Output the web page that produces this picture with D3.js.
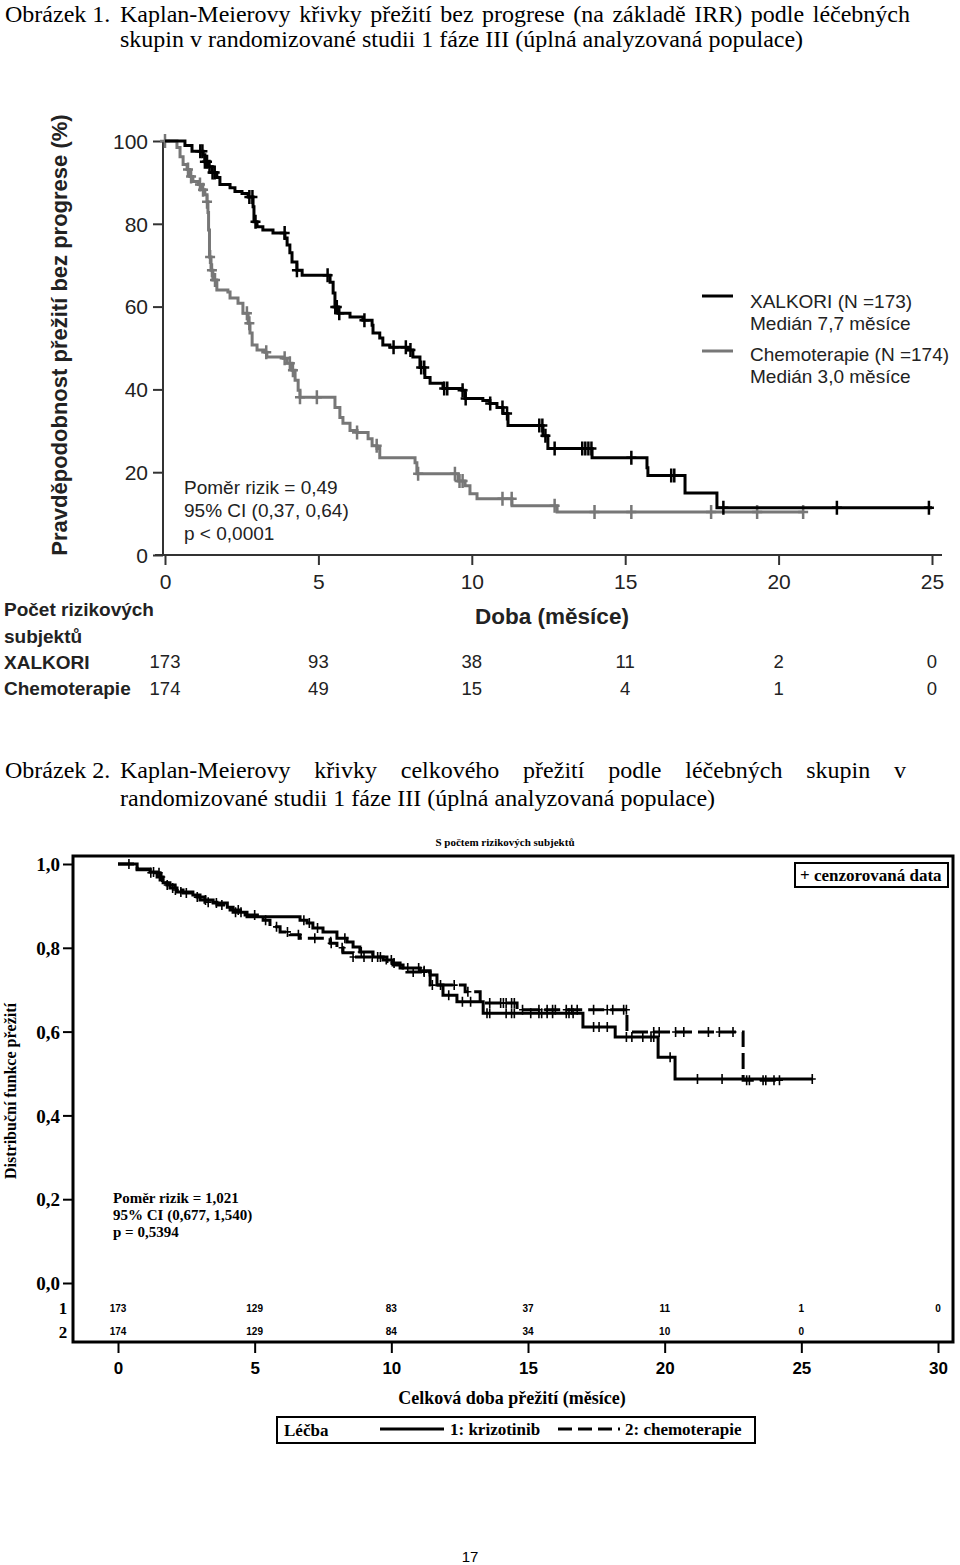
<!DOCTYPE html>
<html><head><meta charset="utf-8">
<script src="https://cdn.jsdelivr.net/npm/d3@7"></script>
<style>body{margin:0;background:#fff}svg{display:block}</style>
</head><body>
<script>
// ---------- DATA: Figure 1 (PFS) ----------
const pfsXTicks = [0, 5, 10, 15, 20, 25];
const pfsYTicks = [0, 20, 40, 60, 80, 100];
const xalkoriTimes = [0.65,0.88,1.24,1.30,1.40,1.53,1.69,1.79,2.12,2.28,2.51,2.71,2.87,2.90,3.0,3.19,3.52,3.91,3.98,4.07,4.14,4.30,4.47,5.38,5.48,5.54,5.64,6.03,6.45,6.75,6.78,7.0,7.1,7.33,7.92,8.08,8.31,8.47,8.64,9.06,9.68,9.78,10.36,10.59,10.82,11.02,11.18,12.32,12.48,13.92,15.71,15.74,16.95,17.99];
const xalkoriSurv  = [98.9,97.5,96.7,95.0,93.8,92.4,91.2,89.5,88.7,87.8,87.3,86.5,84.1,80.5,79.3,78.5,77.8,76.6,74.9,73.0,70.8,68.8,67.6,65.9,63.3,59.9,58.4,57.5,56.7,55.5,53.6,52.4,50.7,50.2,49.5,47.8,45.3,42.9,41.5,40.2,39.8,37.8,37.3,36.6,35.6,34.2,31.3,28.8,25.7,23.5,21.1,19.2,15.0,11.4];
const xalkoriEnd = 25.0;
const xalkoriCensor = [1.15,1.22,1.3,1.37,1.45,1.55,1.62,2.75,2.85,2.95,3.9,4.3,5.3,5.55,5.6,5.68,6.5,7.45,7.85,8.0,8.35,8.45,9.1,9.2,9.7,9.8,10.6,11.0,11.15,12.2,12.3,12.4,12.7,13.6,13.7,13.8,13.9,15.2,16.5,16.6,18.2,21.9,24.9];
const chemoTimes = [0.39,0.49,0.59,0.72,0.81,0.91,1.08,1.21,1.30,1.37,1.40,1.42,1.45,1.50,1.56,1.69,2.05,2.12,2.38,2.54,2.71,2.77,2.84,3.0,3.26,3.32,3.85,3.98,4.14,4.24,4.34,4.40,5.54,5.70,5.80,6.03,6.26,6.62,6.75,6.91,7.0,8.15,8.21,9.55,9.78,9.94,10.17,11.31,12.78];
const chemoSurv  = [98.4,96.2,94.3,93.1,91.4,90.2,89.5,88.2,87.0,85.3,82.7,78.5,72.0,68.8,66.4,64.0,63.5,62.1,60.8,58.4,56.0,53.6,50.7,49.5,49.0,47.8,47.5,46.3,44.6,42.2,39.8,38.1,35.6,33.2,31.8,30.1,29.6,28.1,26.4,25.7,23.5,22.3,19.6,17.9,16.7,14.8,13.6,11.9,10.4];
const chemoEnd = 20.8;
const chemoCensor = [0.0,0.75,0.85,1.14,1.24,1.37,1.47,1.53,1.63,2.67,2.75,3.3,3.9,4.07,4.17,4.4,4.95,6.26,6.9,8.25,9.45,9.6,9.7,11.0,11.3,12.7,14.0,15.2,17.8,19.3,20.8];
const pfsRiskXalkori = [173, 93, 38, 11, 2, 0];
const pfsRiskChemo   = [174, 49, 15, 4, 1, 0];

// ---------- DATA: Figure 2 (OS) ----------
const osXTicks = [0, 5, 10, 15, 20, 25, 30];
const osYTicks = [0, 0.2, 0.4, 0.6, 0.8, 1.0];
const osYTickLabels = ["0,0", "0,2", "0,4", "0,6", "0,8", "1,0"];
const krizTimes = [0.70,1.17,1.43,1.65,1.90,2.16,2.74,3.0,3.48,4.0,4.21,4.72,6.66,6.92,7.13,7.50,8.01,8.38,8.60,8.85,9.33,9.70,10.06,10.43,11.05,11.42,11.67,11.89,12.40,13.36,17.01,18.19,19.76,20.38];
const krizSurv  = [0.986,0.981,0.969,0.955,0.943,0.933,0.926,0.914,0.907,0.897,0.885,0.874,0.866,0.859,0.847,0.838,0.823,0.814,0.802,0.790,0.778,0.771,0.759,0.752,0.745,0.735,0.711,0.687,0.671,0.644,0.611,0.587,0.539,0.487];
const krizEnd = 25.4;
const krizCensor = [0.4,1.3,1.6,2.0,2.3,3.2,3.6,4.3,4.5,6.8,7.0,7.3,8.3,8.9,9.5,10.0,10.6,11.0,11.2,12.1,12.6,12.9,13.5,13.6,14.2,14.4,14.5,15.1,15.4,15.5,15.7,15.9,16.4,16.5,16.65,17.4,17.6,17.9,18.6,18.8,19.2,19.5,19.6,20.2,21.2,22.1,25.4];
const osChemoTimes = [0.70,1.17,1.54,1.79,2.09,2.38,2.89,3.18,3.62,4.10,4.65,5.31,5.56,5.93,6.29,6.66,7.76,8.01,8.23,8.60,9.84,10.32,10.57,11.42,12.70,13.25,14.60,18.62,22.87];
const osChemoSurv  = [0.988,0.979,0.962,0.950,0.938,0.931,0.921,0.909,0.902,0.890,0.878,0.866,0.850,0.838,0.831,0.823,0.811,0.800,0.788,0.778,0.764,0.752,0.742,0.711,0.695,0.668,0.652,0.599,0.484];
const osChemoEnd = 24.2;
const osChemoCensor = [1.2,1.5,1.8,2.1,2.5,2.9,3.3,3.8,4.4,5.0,5.4,5.8,6.2,6.6,7.2,7.8,8.2,8.6,9.0,9.3,9.6,10.1,10.8,11.2,11.5,11.8,12.3,12.8,13.6,14.0,14.1,14.2,14.4,14.5,14.8,15.4,15.7,15.9,16.0,16.4,16.6,16.8,17.4,17.9,18.1,18.5,18.6,19.6,19.8,20.4,20.7,21.6,22.0,22.5,23.0,23.1,23.6,23.7,24.0,24.2];
const osRisk1 = [173, 129, 83, 37, 11, 1, 0];
const osRisk2 = [174, 129, 84, 34, 10, 0];

// ---------- DRAW ----------
const W = 960, H = 1565;
const svg = d3.select("body").append("svg").attr("width", W).attr("height", H);
svg.append("rect").attr("width", W).attr("height", H).attr("fill", "#fff");
const serif = "'Liberation Serif','Times New Roman',serif";
const sans = "'Liberation Sans',Arial,sans-serif";

function stepVal(times, surv, t, start) {
  let v = start;
  for (let i = 0; i < times.length; i++) if (times[i] <= t + 1e-9) v = surv[i];
  return v;
}
function curvePts(times, surv, start, end) {
  const pts = [[0, start]];
  times.forEach((t, i) => pts.push([t, surv[i]]));
  pts.push([end, surv[surv.length - 1]]);
  return pts;
}
function text(g, x, y, s, opts) {
  return g.append("text").attr("x", x).attr("y", y).text(s)
    .attr("font-family", opts.family || sans).attr("font-size", opts.size || 16)
    .attr("font-weight", opts.weight || "normal").attr("text-anchor", opts.anchor || "start")
    .attr("fill", opts.fill || "#000");
}
// justify a line: widen word spacing so the line ends at the target width
function justify(sel, width) {
  const nat = sel.node().getComputedTextLength();
  const spaces = (sel.text().match(/ /g) || []).length;
  if (nat < width && spaces) sel.attr("word-spacing", (width - nat) / spaces);
}

// Titles
const TS = 24;
text(svg, 5, 22, "Obrázek 1.", {family: serif, size: TS});
justify(text(svg, 120, 22, "Kaplan-Meierovy křivky přežití bez progrese (na základě IRR) podle léčebných", {family: serif, size: TS}), 790);
text(svg, 120, 47, "skupin v randomizované studii 1 fáze III (úplná analyzovaná populace)", {family: serif, size: TS});
text(svg, 5, 778, "Obrázek 2.", {family: serif, size: TS});
justify(text(svg, 120, 778, "Kaplan-Meierovy křivky celkového přežití podle léčebných skupin v", {family: serif, size: TS}), 786);
text(svg, 120, 806, "randomizované studii 1 fáze III (úplná analyzovaná populace)", {family: serif, size: TS});

// ===== Figure 1 =====
const x1 = d3.scaleLinear().domain([0, 25]).range([165, 932]);
const y1 = d3.scaleLinear().domain([0, 100]).range([555, 141]);
const g1 = svg.append("g");
const ax1 = g1.append("g").attr("transform", "translate(163,0)")
  .call(d3.axisLeft(y1).tickValues(pfsYTicks).tickSize(10).tickFormat(d3.format("d")));
ax1.select(".domain").attr("stroke", "#333").attr("stroke-width", 2).attr("d", "M0,141V555");
ax1.selectAll(".tick line").attr("stroke", "#333").attr("stroke-width", 2);
ax1.selectAll(".tick text").attr("font-family", sans).attr("font-size", 21).attr("fill", "#222").attr("x", -15).attr("dy", "0.35em");
const bx1 = g1.append("g").attr("transform", "translate(0,555)")
  .call(d3.axisBottom(x1).tickValues(pfsXTicks).tickSize(10));
bx1.select(".domain").attr("stroke", "#333").attr("stroke-width", 2).attr("d", "M155,0H942");
bx1.selectAll(".tick line").attr("stroke", "#333").attr("stroke-width", 2);
bx1.selectAll(".tick text").attr("font-family", sans).attr("font-size", 21).attr("fill", "#222").attr("y", 19).attr("dy", "0.71em");

const line1 = d3.line().x(d => x1(d[0])).y(d => y1(d[1])).curve(d3.curveStepAfter);
function censors(g, xs, ys, times, surv, start, color, times0, hw, hh, sw) {
  g.append("g").selectAll("path").data(times0).join("path")
    .attr("d", t => {
      const cx = xs(t), cy = ys(stepVal(times, surv, t, start));
      return `M${cx - hw},${cy}H${cx + hw}M${cx},${cy - hh}V${cy + hh}`;
    })
    .attr("stroke", color).attr("stroke-width", sw).attr("fill", "none");
}
const grey = "#777";
g1.append("path").datum(curvePts(chemoTimes, chemoSurv, 100, chemoEnd)).attr("d", line1)
  .attr("fill", "none").attr("stroke", grey).attr("stroke-width", 3);
censors(g1, x1, y1, chemoTimes, chemoSurv, 100, grey, chemoCensor, 5, 7, 2.5);
g1.append("path").datum(curvePts(xalkoriTimes, xalkoriSurv, 100, xalkoriEnd)).attr("d", line1)
  .attr("fill", "none").attr("stroke", "#000").attr("stroke-width", 3);
censors(g1, x1, y1, xalkoriTimes, xalkoriSurv, 100, "#000", xalkoriCensor, 5, 7, 2.5);

// legend fig 1
g1.append("line").attr("x1", 702).attr("x2", 733).attr("y1", 296).attr("y2", 296).attr("stroke", "#000").attr("stroke-width", 3);
g1.append("line").attr("x1", 702).attr("x2", 733).attr("y1", 351).attr("y2", 351).attr("stroke", grey).attr("stroke-width", 3);
text(g1, 750, 308, "XALKORI (N =173)", {size: 19, fill: "#222"});
text(g1, 750, 330, "Medián 7,7 měsíce", {size: 19, fill: "#222"});
text(g1, 750, 361, "Chemoterapie (N =174)", {size: 19, fill: "#222"});
text(g1, 750, 383, "Medián 3,0 měsíce", {size: 19, fill: "#222"});
// annotation
text(g1, 184, 494, "Poměr rizik = 0,49", {size: 19, fill: "#222"});
text(g1, 184, 517, "95% CI (0,37, 0,64)", {size: 19, fill: "#222"});
text(g1, 184, 540, "p < 0,0001", {size: 19, fill: "#222"});
// axis titles
text(g1, 0, 0, "Pravděpodobnost přežití bez progrese (%)", {size: 22, weight: "bold", anchor: "middle", fill: "#222"})
  .attr("transform", "translate(67,335) rotate(-90)");
text(g1, 552, 624, "Doba (měsíce)", {size: 22.5, weight: "bold", anchor: "middle", fill: "#222"});
text(g1, 4, 616, "Počet rizikových", {size: 19, weight: "bold", fill: "#222"});
text(g1, 4, 643, "subjektů", {size: 19, weight: "bold", fill: "#222"});
text(g1, 4, 669, "XALKORI", {size: 19, weight: "bold", fill: "#222"});
text(g1, 4, 695, "Chemoterapie", {size: 19, weight: "bold", fill: "#222"});
g1.append("g").selectAll("text").data(pfsRiskXalkori).join("text")
  .attr("x", (d, i) => x1(pfsXTicks[i])).attr("y", 668).attr("text-anchor", "middle")
  .attr("font-family", sans).attr("font-size", 18.5).attr("fill", "#222").text(d => d);
g1.append("g").selectAll("text").data(pfsRiskChemo).join("text")
  .attr("x", (d, i) => x1(pfsXTicks[i])).attr("y", 695).attr("text-anchor", "middle")
  .attr("font-family", sans).attr("font-size", 18.5).attr("fill", "#222").text(d => d);

// ===== Figure 2 =====
const x2 = d3.scaleLinear().domain([0, 30]).range([118, 938]);
const y2 = d3.scaleLinear().domain([0, 1]).range([1283, 864]);
const g2 = svg.append("g");
text(g2, 505, 846, "S počtem rizikových subjektů", {family: serif, size: 11, weight: "bold", anchor: "middle"});
g2.append("rect").attr("x", 73).attr("y", 856).attr("width", 880).attr("height", 486)
  .attr("fill", "none").attr("stroke", "#000").attr("stroke-width", 3);
const ay2 = g2.append("g").attr("transform", "translate(73,0)")
  .call(d3.axisLeft(y2).tickValues(osYTicks).tickSize(10).tickFormat((d, i) => osYTickLabels[i]));
ay2.select(".domain").remove();
ay2.selectAll(".tick line").attr("stroke", "#000").attr("stroke-width", 2);
ay2.selectAll(".tick text").attr("font-family", serif).attr("font-size", 19).attr("font-weight", "bold").attr("x", -13).attr("dy", "0.35em");
const ax2 = g2.append("g").attr("transform", "translate(0,1342)")
  .call(d3.axisBottom(x2).tickValues(osXTicks).tickSize(11));
ax2.select(".domain").remove();
ax2.selectAll(".tick line").attr("stroke", "#000").attr("stroke-width", 2);
ax2.selectAll(".tick text").attr("font-family", sans).attr("font-size", 17).attr("font-weight", "bold").attr("y", 20).attr("dy", "0.71em");

const line2 = d3.line().x(d => x2(d[0])).y(d => y2(d[1])).curve(d3.curveStepAfter);
g2.append("path").datum(curvePts(osChemoTimes, osChemoSurv, 1, osChemoEnd)).attr("d", line2)
  .attr("fill", "none").attr("stroke", "#000").attr("stroke-width", 3).attr("stroke-dasharray", "16,6");
censors(g2, x2, y2, osChemoTimes, osChemoSurv, 1, "#000", osChemoCensor, 3.5, 5, 1.6);
g2.append("path").datum(curvePts(krizTimes, krizSurv, 1, krizEnd)).attr("d", line2)
  .attr("fill", "none").attr("stroke", "#000").attr("stroke-width", 3);
censors(g2, x2, y2, krizTimes, krizSurv, 1, "#000", krizCensor, 3.5, 5, 1.6);

// risk table fig 2
text(g2, 63, 1314, "1", {family: serif, size: 17, weight: "bold", anchor: "middle"});
text(g2, 63, 1338, "2", {family: serif, size: 17, weight: "bold", anchor: "middle"});
g2.append("g").selectAll("text").data(osRisk1).join("text")
  .attr("x", (d, i) => x2(osXTicks[i])).attr("y", 1312).attr("text-anchor", "middle")
  .attr("font-family", sans).attr("font-size", 10).attr("font-weight", "bold").text(d => d);
g2.append("g").selectAll("text").data(osRisk2).join("text")
  .attr("x", (d, i) => x2(osXTicks[i])).attr("y", 1335).attr("text-anchor", "middle")
  .attr("font-family", sans).attr("font-size", 10).attr("font-weight", "bold").text(d => d);

// censor legend box
g2.append("rect").attr("x", 795).attr("y", 863).attr("width", 153).attr("height", 24)
  .attr("fill", "#fff").attr("stroke", "#000").attr("stroke-width", 2);
text(g2, 800, 881, "+ cenzorovaná data", {family: serif, size: 17, weight: "bold"});
// annotation
text(g2, 113, 1203, "Poměr rizik = 1,021", {family: serif, size: 15, weight: "bold"});
text(g2, 113, 1220, "95% CI (0,677, 1,540)", {family: serif, size: 15, weight: "bold"});
text(g2, 113, 1237, "p = 0,5394", {family: serif, size: 15, weight: "bold"});
// axis titles
text(g2, 0, 0, "Distribuční funkce přežití", {family: serif, size: 16, weight: "bold", anchor: "middle"})
  .attr("transform", "translate(16,1091) rotate(-90)");
text(g2, 512, 1404, "Celková doba přežití (měsíce)", {family: serif, size: 18, weight: "bold", anchor: "middle"});
// treatment legend
g2.append("rect").attr("x", 277).attr("y", 1417).attr("width", 478).attr("height", 26)
  .attr("fill", "#fff").attr("stroke", "#000").attr("stroke-width", 2);
text(g2, 284, 1436, "Léčba", {family: serif, size: 17, weight: "bold"});
g2.append("line").attr("x1", 380).attr("x2", 444).attr("y1", 1429).attr("y2", 1429).attr("stroke", "#000").attr("stroke-width", 3);
text(g2, 450, 1435, "1: krizotinib", {family: serif, size: 17, weight: "bold"});
g2.append("line").attr("x1", 558).attr("x2", 620).attr("y1", 1429).attr("y2", 1429).attr("stroke", "#000").attr("stroke-width", 3).attr("stroke-dasharray", "14,6");
text(g2, 625, 1435, "2: chemoterapie", {family: serif, size: 17, weight: "bold"});

// page number
text(svg, 470, 1562, "17", {size: 15, anchor: "middle"});
</script>
</body></html>
